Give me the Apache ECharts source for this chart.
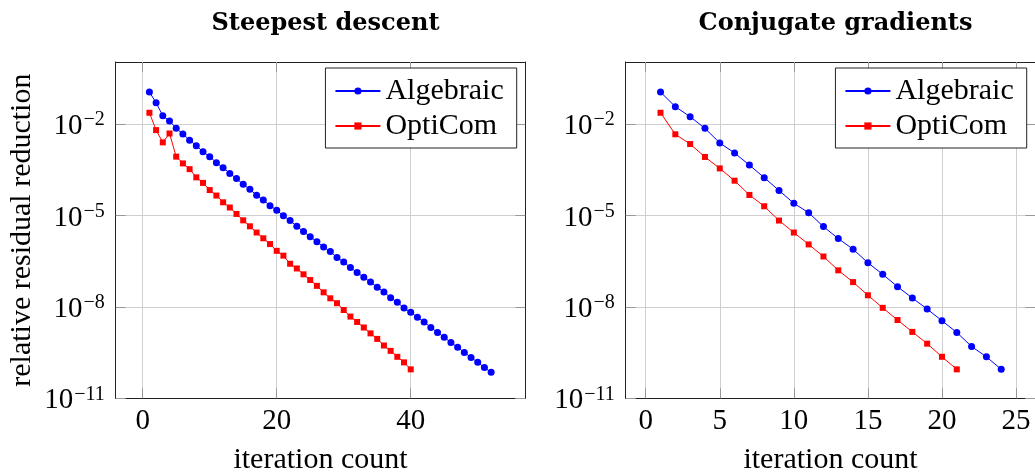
<!DOCTYPE html>
<html>
<head>
<meta charset="utf-8">
<title>Residual reduction</title>
<script src="https://cdn.jsdelivr.net/npm/echarts@6/dist/echarts.min.js"></script>
<style>
    html, body { margin:0; padding:0; background:#fff; }
    #chart { width:1035px; height:476px; }
</style>
</head>
<body>
<div id="chart"></div>
<script>
// relative residual reduction per iteration
var sdAlgebraic = [1.12e-1, 5.0e-2, 1.86e-2, 1.26e-2, 7.2e-3, 4.7e-3, 2.95e-3, 1.95e-3, 1.23e-3, 8.5e-4,
    5.4e-4, 3.7e-4, 2.4e-4, 1.62e-4, 1.05e-4, 7.2e-5, 4.6e-5, 3.2e-5, 2.1e-5, 1.48e-5,
    9.8e-6, 6.8e-6, 4.4e-6, 2.95e-6, 2.0e-6, 1.38e-6, 9.3e-7, 6.5e-7, 4.2e-7, 2.95e-7,
    1.95e-7, 1.35e-7, 9.3e-8, 6.5e-8, 4.4e-8, 3.1e-8, 2.0e-8, 1.41e-8, 9.1e-9, 6.6e-9,
    4.6e-9, 3.2e-9, 2.1e-9, 1.45e-9, 1.0e-9, 6.8e-10, 4.7e-10, 3.2e-10, 2.2e-10, 1.51e-10,
    1.02e-10, 7.1e-11];
var sdOptiCom = [2.34e-2, 6.3e-3, 2.5e-3, 4.9e-3, 8.5e-4, 5.1e-4, 3.3e-4, 1.78e-4, 1.17e-4, 6.8e-5,
    4.5e-5, 2.7e-5, 1.82e-5, 1.12e-5, 6.9e-6, 4.4e-6, 2.75e-6, 1.78e-6, 1.15e-6, 6.9e-7,
    4.8e-7, 2.6e-7, 1.82e-7, 1.17e-7, 7.6e-8, 4.9e-8, 3.0e-8, 1.91e-8, 1.32e-8, 7.9e-9,
    4.8e-9, 3.2e-9, 2.1e-9, 1.35e-9, 8.9e-10, 5.4e-10, 3.6e-10, 2.3e-10, 1.51e-10, 8.9e-11];
var cgAlgebraic = [1.12e-1, 3.7e-2, 1.74e-2, 7.2e-3, 2.4e-3, 1.12e-3, 4.5e-4, 1.74e-4, 6.6e-5, 2.5e-5,
    1.23e-5, 4.3e-6, 1.74e-6, 7.8e-7, 2.8e-7, 1.17e-7, 4.6e-8, 1.95e-8, 8.5e-9, 3.5e-9,
    1.45e-9, 5.0e-10, 2.3e-10, 8.9e-11];
var cgOptiCom = [2.34e-2, 4.6e-3, 2.2e-3, 8.3e-4, 3.5e-4, 1.38e-4, 4.7e-5, 2.0e-5, 6.8e-6, 2.75e-6,
    1.12e-6, 4.5e-7, 1.58e-7, 6.5e-8, 2.4e-8, 9.3e-9, 3.7e-9, 1.51e-9, 6.2e-10, 2.3e-10,
    8.9e-11];

var sdTicks = [0, 20, 40];
var cgTicks = [0, 5, 10, 15, 20, 25];
var yTicks = [-11, -8, -5, -2];   // decades shown on the log axis

var FONT = 'Liberation Serif';

function toPoints(arr) {
    return arr.map(function (v, i) { return [i + 1, Math.log10(v)]; });
}
function powLabel(v) {
    return '{b|10}{s|\u2212' + Math.round(-v) + '}';
}

var tickStyle = { show: true, inside: true, length: 10, lineStyle: { color: '#999', width: 1 } };
var lineStyleAxis = { show: true, onZero: false, lineStyle: { color: '#222', width: 1 } };
var gridLine = { show: true, lineStyle: { color: '#cfcfcf', width: 1 } };

function xMain(grid, min, max, ticks) {
    return {
        type: 'value', gridIndex: grid, position: 'bottom', min: min, max: max,
        name: 'iteration count', nameLocation: 'middle', nameGap: 47,
        nameTextStyle: { fontFamily: FONT, fontSize: 30, color: '#000' },
        axisLine: lineStyleAxis,
        axisTick: Object.assign({ customValues: ticks }, tickStyle),
        axisLabel: { customValues: ticks, margin: 9, fontFamily: FONT, fontSize: 29, color: '#000' },
        splitLine: gridLine
    };
}
function xTop(grid, min, max, ticks) {
    return {
        type: 'value', gridIndex: grid, position: 'top', min: min, max: max,
        axisLine: lineStyleAxis,
        axisTick: Object.assign({ customValues: ticks }, tickStyle),
        axisLabel: { show: false },
        splitLine: { show: false }
    };
}
function yMain(grid, withName) {
    return {
        type: 'value', gridIndex: grid, position: 'left', min: -11, max: 0.035,
        name: withName ? 'relative residual reduction' : '',
        nameLocation: 'middle', nameGap: 79,
        nameTextStyle: { fontFamily: FONT, fontSize: 30, color: '#000' },
        axisLine: lineStyleAxis,
        axisTick: Object.assign({ customValues: yTicks }, tickStyle),
        axisLabel: {
            customValues: yTicks, margin: 11, formatter: powLabel, padding: [5, 0, 0, 0],
            rich: {
                b: { fontFamily: FONT, fontSize: 29, color: '#000' },
                s: { fontFamily: FONT, fontSize: 20, color: '#000', padding: [0, 0, 13, 1] }
            }
        },
        splitLine: gridLine
    };
}
function yRight(grid) {
    return {
        type: 'value', gridIndex: grid, position: 'right', min: -11, max: 0.035,
        axisLine: lineStyleAxis,
        axisTick: Object.assign({ customValues: yTicks }, tickStyle),
        axisLabel: { show: false },
        splitLine: { show: false }
    };
}
function legendAt(right) {
    return {
        orient: 'vertical', align: 'left', top: 68, right: right,
        data: ['Algebraic', 'OptiCom'],
        backgroundColor: '#fff', borderColor: '#222', borderWidth: 1,
        padding: [8, 13, 7, 9], itemWidth: 45, itemHeight: 9, itemGap: 5,
        textStyle: { fontFamily: FONT, fontSize: 30, color: '#000', lineHeight: 30 }
    };
}
function lineSeries(name, x, y, values, color, symbol, size) {
    return {
        name: name, type: 'line', xAxisIndex: x, yAxisIndex: y,
        data: toPoints(values), symbol: symbol, symbolSize: size, showAllSymbol: true,
        lineStyle: { color: color, width: 1 },
        itemStyle: { color: color, borderWidth: 0 },
        z: name === 'Algebraic' ? 3 : 4
    };
}

var titleStyle = { fontFamily: 'DejaVu Serif', fontSize: 24, fontWeight: 'bold', color: '#000' };

var chart = echarts.init(document.getElementById('chart'), null, { renderer: 'canvas' });
chart.setOption({
    animation: false,
    backgroundColor: '#fff',
    title: [
        { text: 'Steepest descent', left: 320.5, top: 7, textAlign: 'center', textStyle: titleStyle },
        { text: 'Conjugate gradients', left: 830.5, top: 7, textAlign: 'center', textStyle: titleStyle }
    ],
    grid: [
        { left: 115.7, top: 62, width: 409.6, height: 336.3, outerBoundsMode: 'none' },
        { left: 625.7, top: 62, width: 409.6, height: 336.3, outerBoundsMode: 'none' }
    ],
    xAxis: [
        xMain(0, -4.03, 57.1, sdTicks),
        xTop(0, -4.03, 57.1, sdTicks),
        xMain(1, -1.35, 26.3, cgTicks),
        xTop(1, -1.35, 26.3, cgTicks)
    ],
    yAxis: [yMain(0, true), yRight(0), yMain(1, false), yRight(1)],
    legend: [legendAt(518.3), legendAt(8.3)],
    series: [
        lineSeries('Algebraic', 0, 0, sdAlgebraic, '#0000ff', 'circle', 7),
        lineSeries('OptiCom', 0, 0, sdOptiCom, '#ff0000', 'rect', 6),
        lineSeries('Algebraic', 2, 2, cgAlgebraic, '#0000ff', 'circle', 7),
        lineSeries('OptiCom', 2, 2, cgOptiCom, '#ff0000', 'rect', 6)
    ]
});
</script>
</body>
</html>
